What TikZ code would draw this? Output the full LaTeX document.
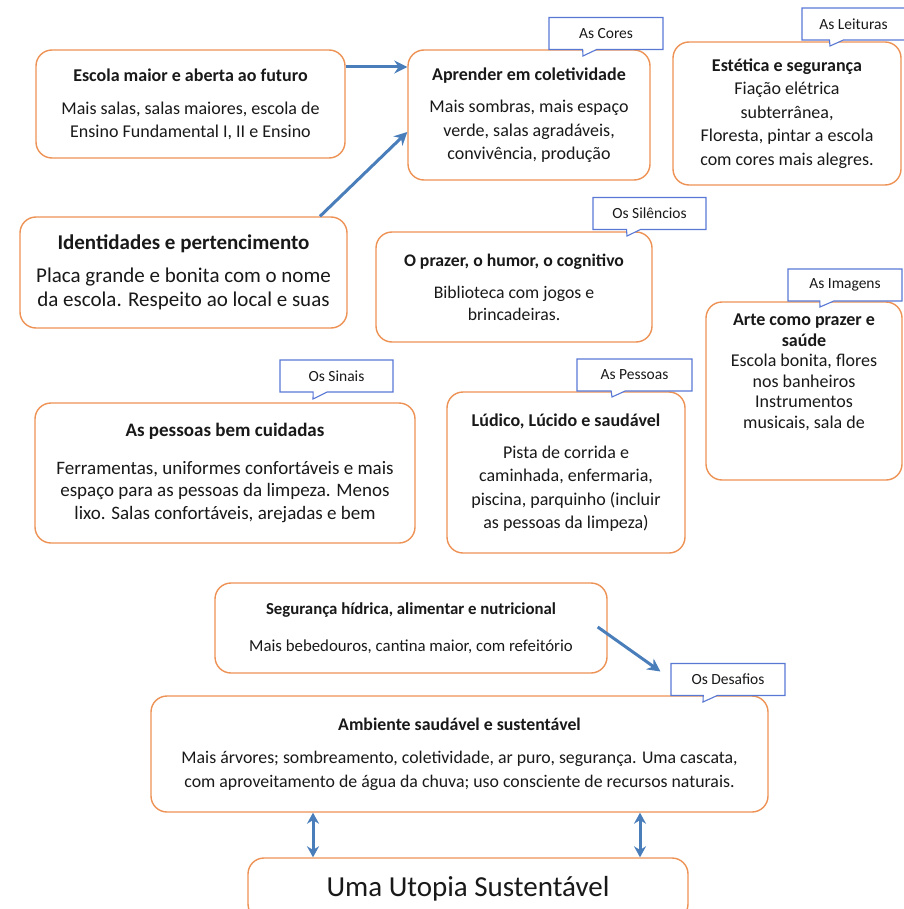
\documentclass[tikz,border=0pt]{standalone}
\usepackage{fontspec}
\setmainfont{Carlito}
\usetikzlibrary{arrows.meta,shapes.callouts}
\definecolor{boxorange}{RGB}{237,146,84}
\definecolor{tagblue}{RGB}{88,120,212}
\definecolor{arrowblue}{RGB}{74,126,187}

\begin{document}
\begin{tikzpicture}[
  x=1pt, y=-1pt,
  box/.style={draw=boxorange, line width=1.4pt, rounded corners=16pt, fill=white, align=center, inner sep=2pt, text=black!90},
  tag/.style={rectangle callout, draw=tagblue, line width=1.1pt, fill=white, minimum height=32pt, inner sep=1pt, text=black!90, font=\fontsize{15.5}{17}\selectfont, callout pointer width=14pt},
  arr/.style={-{Stealth[length=13pt,width=13pt]}, line width=3pt, arrowblue},
  darr/.style={{Stealth[length=11pt,width=12pt]}-{Stealth[length=11pt,width=12pt]}, line width=3pt, arrowblue}
]
\useasboundingbox (0,0) rectangle (903,909);

% top row
\node[box, minimum width=309pt, minimum height=108pt, font=\fontsize{18}{23}\selectfont] (escola) at (190.5,104)
  {\textbf{Escola maior e aberta ao futuro}\\[10pt]Mais salas, salas maiores, escola de\\Ensino Fundamental I, II e Ensino};
\node[box, minimum width=242pt, minimum height=130pt, font=\fontsize{18}{23.5}\selectfont] (aprender) at (529,115)
  {\textbf{Aprender em coletividade}\\[9pt]Mais sombras, mais espaço\\verde, salas agradáveis,\\convivência, produção};
\node[box, minimum width=228pt, minimum height=143pt, font=\fontsize{18}{23.5}\selectfont] (estetica) at (787,113.5)
  {\textbf{Estética e segurança}\\Fiação elétrica\\subterrânea,\\Floresta, pintar a escola\\com cores mais alegres.};

% second row
\node[box, minimum width=327pt, minimum height=111pt, font=\fontsize{21}{24}\selectfont] (identidades) at (183.5,272.5)
  {\textbf{Identidades e pertencimento}\\[9pt]Placa grande e bonita com o nome\\da escola. Respeito ao local e suas};
\node[box, minimum width=276pt, minimum height=110pt, font=\fontsize{17.7}{22}\selectfont] (prazer) at (514,287)
  {\textbf{O prazer, o humor, o cognitivo}\\[10pt]Biblioteca com jogos e\\brincadeiras.};
\node[box, minimum width=196pt, minimum height=178pt, font=\fontsize{18}{20.5}\selectfont] (arte) at (804,391)
  {\textbf{Arte como prazer e}\\\textbf{saúde}\\Escola bonita, flores\\nos banheiros\\Instrumentos\\musicais, sala de\\[19pt]\mbox{}};

% third row
\node[box, minimum width=380pt, minimum height=140pt, font=\fontsize{19}{22.5}\selectfont] (cuidadas) at (225,473)
  {\textbf{As pessoas bem cuidadas}\\[15pt]Ferramentas, uniformes confortáveis e mais\\espaço para as pessoas da limpeza. Menos\\lixo. Salas confortáveis, arejadas e bem};
\node[box, minimum width=238pt, minimum height=161pt, font=\fontsize{18}{23.3}\selectfont] (ludico) at (566,472.5)
  {\textbf{Lúdico, Lúcido e saudável}\\[9pt]Pista de corrida e\\caminhada, enfermaria,\\piscina, parquinho (incluir\\as pessoas da limpeza)};

% bottom
\node[box, minimum width=392pt, minimum height=90pt, font=\fontsize{16.8}{22}\selectfont] (seguranca) at (411,628)
  {\textbf{Segurança hídrica, alimentar e nutricional}\\[15pt]Mais bebedouros, cantina maior, com refeitório};
\node[box, minimum width=617pt, minimum height=116pt, font=\fontsize{17.8}{24}\selectfont] (ambiente) at (459.5,754)
  {\textbf{Ambiente saudável e sustentável}\\[9pt]Mais árvores; sombreamento, coletividade, ar puro, segurança. Uma cascata,\\com aproveitamento de água da chuva; uso consciente de recursos naturais.};
\node[box, minimum width=440pt, minimum height=62pt, font=\fontsize{29}{32}\selectfont] (utopia) at (468,889)
  {Uma Utopia Sustentável};

% tags
\node[tag, minimum width=114pt, callout absolute pointer={(583,56)}] (cores) at (606,33.5) {As Cores};
\node[tag, minimum width=103pt, callout absolute pointer={(830,46)}] (leituras) at (853.5,24) {As Leituras};
\node[tag, minimum width=113pt, callout absolute pointer={(627,236)}] (silencios) at (649.5,213.5) {Os Silêncios};
\node[tag, minimum width=114pt, callout absolute pointer={(820,307)}] (imagens) at (845,285) {As Imagens};
\node[tag, minimum width=113pt, callout absolute pointer={(313,399)}] (sinais) at (336.5,376) {Os Sinais};
\node[tag, minimum width=115pt, callout absolute pointer={(612,397)}] (pessoas) at (634.5,375) {As Pessoas};
\node[tag, minimum width=114pt, callout absolute pointer={(703,702)}] (desafios) at (728,679.5) {Os Desafios};

% arrows
\draw[arr] ([yshift=37pt]escola.east) -- ([yshift=37pt]escola.east -| aprender.west);
\draw[arr] ([xshift=136.5pt]identidades.north) -- ([yshift=-17pt]aprender.west);
\draw[arr] ([xshift=-10pt,yshift=1pt]seguranca.east) -- ([xshift=-10pt,yshift=8pt]desafios.west);
\draw[darr] ([xshift=-146.5pt]ambiente.south) -- ([xshift=-146.5pt]ambiente.south |- utopia.north);
\draw[darr] ([xshift=180.5pt]ambiente.south) -- ([xshift=180.5pt]ambiente.south |- utopia.north);
\end{tikzpicture}
\end{document}
